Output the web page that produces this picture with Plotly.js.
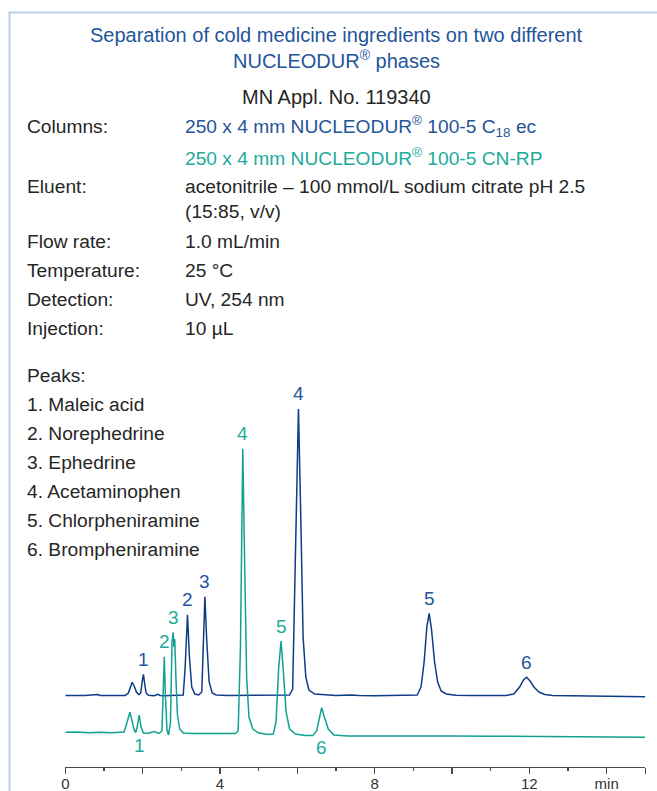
<!DOCTYPE html>
<html>
<head>
<meta charset="utf-8">
<script src="https://cdn.plot.ly/plotly-3.0.1.min.js"></script>
<style>html,body{margin:0;padding:0;background:#fff;}#chart{width:657px;height:791px;}</style>
</head>
<body>
<div id="chart"></div>
<script>
// ---------- DATA ----------
// C18 ec chromatogram (time in min, signal in arbitrary units incl. stacking offset)
const blueTime = [0,0.5,0.85,0.9,1.2,1.55,1.63,1.68,1.73,1.78,1.84,1.9,1.95,1.99,2.02,2.05,2.09,2.15,2.3,2.4,2.45,2.55,2.9,3.05,3.1,3.16,3.21,3.27,3.35,3.45,3.53,3.57,3.61,3.66,3.72,3.8,3.9,4.2,4.6,5.0,5.5,5.8,5.88,5.95,6.03,6.09,6.15,6.22,6.3,6.45,6.7,7.0,7.4,7.6,8.0,8.5,9.0,9.1,9.2,9.28,9.35,9.41,9.47,9.55,9.63,9.72,9.85,10.1,10.5,11.0,11.4,11.6,11.75,11.85,11.93,12.02,12.12,12.25,12.4,12.6,13.0,13.5,14.0,14.5,15.0];
const blueSignal = [71.5,71.5,72.4,71.5,71.5,71.6,74,80,84.7,81,75,72.5,74,86,92.7,84,74,71.8,71.3,72.6,71.6,71.3,71.5,72,100,152.3,110,80,73,72,75,120,170.3,125,85,74,72,71.5,71.6,71.4,71.5,72,78,200,358,250,130,90,77,73,72,71.5,72,71.5,71.3,71.5,71.5,72,80,105,140,153.7,138,105,85,76,73,71.8,71.4,71.5,71.6,73,80,87,89.7,86,80,75,72.5,71.5,71.2,71.4,71.0,70.8,70.3];
// CN-RP chromatogram
const tealTime = [0,0.3,0.6,0.9,1.2,1.4,1.52,1.6,1.67,1.72,1.78,1.82,1.86,1.91,1.96,2.02,2.15,2.3,2.42,2.5,2.53,2.56,2.59,2.63,2.67,2.72,2.76,2.79,2.81,2.83,2.86,2.9,2.96,3.05,3.3,3.7,4.1,4.4,4.47,4.53,4.59,4.64,4.69,4.75,4.85,5.0,5.25,5.38,5.45,5.52,5.58,5.64,5.71,5.8,5.95,6.2,6.4,6.5,6.57,6.63,6.7,6.8,6.95,7.3,8.0,9.0,10.0,11.0,12.0,13.0,14.0,15.0];
const tealSignal = [34.7,34.9,34.3,34.8,34.2,34.6,35,45,54.7,47,37,34.5,40,52,40,34,33.8,35.5,33.5,36,70,110.3,70,37,32,45,125,134.7,120,128,90,52,38,34,33.5,33.8,33.6,33.5,36,120,318.3,200,90,50,38,34,32.5,33,45,100,126,95,55,38,33,31.5,31.5,36,50,59.3,50,38,32,31,31,31.2,31,30.8,30.5,30.7,30.2,29.7];

const peakNumbers = ['1','2','3','4','5','6'];
const peakNames = ['Maleic acid','Norephedrine','Ephedrine','Acetaminophen','Chlorpheniramine','Brompheniramine'];
const blueApexTime = [2.02,3.16,3.61,6.03,9.41,11.93];
const blueApexSignal = [92.7,152.3,170.3,358,153.7,89.7];
const tealApexTime = [1.91,2.56,2.79,4.59,5.58,6.63];
const tealApexSignal = [52,110.3,134.7,318.3,126,59.3];

const xLabelVals = [0,4,8,12,14];
const xLabelText = ['0','4','8','12','min'];
const xOtherMajorVals = [2,6,10,15];
const xMinorVals = [1,3,5,7,9,11,13];

const titleLines = ['Separation of cold medicine ingredients on two different','NUCLEODUR<sup>®</sup> phases'];
const applNo = 'MN Appl. No. 119340';
const condLabels = ['Columns:','','Eluent:','','Flow rate:','Temperature:','Detection:','Injection:'];
const condValues = ['250 x 4 mm NUCLEODUR<sup>®</sup> 100-5 C<sub>18</sub> ec','250 x 4 mm NUCLEODUR<sup>®</sup> 100-5 CN-RP','acetonitrile – 100 mmol/L sodium citrate pH 2.5','(15:85, v/v)','1.0 mL/min','25 °C','UV, 254 nm','10 µL'];
const peaksHeading = 'Peaks:';

// ---------- STYLE / LAYOUT ----------
const W = 657, H = 791;
const FONT = 'Liberation Sans, Arial, sans-serif';
const BLUE_LINE = '#0d3c88', TEAL_LINE = '#11a092';
const BLUE_TXT = '#24559a', TEAL_TXT = '#22aa9b', TXT = '#262626';
const AX = '#4a4a4a';
const BODY = 19.2;
const px = x => x / W, py = y => 1 - y / H;

const ann = [];
function txt(text, x, y, opts) {
  ann.push(Object.assign({text: text, xref: 'paper', yref: 'paper', x: px(x), y: py(y), showarrow: false,
    xanchor: 'left', yanchor: 'middle', font: {family: FONT, size: BODY, color: TXT}}, opts || {}));
}
txt(titleLines[0], 336, 35, {xanchor: 'center', font: {family: FONT, size: 20, color: BLUE_TXT}});
txt(titleLines[1], 336, 60, {xanchor: 'center', font: {family: FONT, size: 20, color: BLUE_TXT}});
txt(applNo, 336, 97, {xanchor: 'center', font: {family: FONT, size: 20, color: TXT}});
const condY = [127,157,186,211,241,270,299,328];
condLabels.forEach((l, i) => { if (l) txt(l, 25, condY[i]); });
condValues.forEach((v, i) => {
  const c = i === 0 ? BLUE_TXT : (i === 1 ? TEAL_TXT : TXT);
  txt(v, 183, condY[i], {font: {family: FONT, size: BODY, color: c}});
});
txt(peaksHeading, 25, 375);
peakNames.forEach((n, i) => txt(peakNumbers[i] + '. ' + n, 25, 404 + i * 29));

// peak number labels on the chromatograms
peakNumbers.forEach((p, i) => {
  ann.push({text: p, xref: 'x', yref: 'y', x: blueApexTime[i], y: blueApexSignal[i], showarrow: false,
    xanchor: 'center', yanchor: 'middle', yshift: 15, font: {family: FONT, size: 19, color: BLUE_TXT}});
  const ys = i === 0 ? -30 : (i === 5 ? -40 : 15);
  ann.push({text: p, xref: 'x', yref: 'y', x: tealApexTime[i], y: tealApexSignal[i], showarrow: false,
    xanchor: 'center', yanchor: 'middle', yshift: ys, font: {family: FONT, size: 19, color: TEAL_TXT}});
});

const traces = [
  {x: blueTime, y: blueSignal, type: 'scatter', mode: 'lines', line: {color: BLUE_LINE, width: 1.5}, hoverinfo: 'skip', xaxis: 'x', yaxis: 'y'},
  {x: tealTime, y: tealSignal, type: 'scatter', mode: 'lines', line: {color: TEAL_LINE, width: 1.5}, hoverinfo: 'skip', xaxis: 'x2', yaxis: 'y'}
];

const xDomain = [px(65.3), px(645.3)];
const layout = {
  width: W, height: H, margin: {l: 0, r: 0, t: 0, b: 0},
  paper_bgcolor: '#fff', plot_bgcolor: 'rgba(0,0,0,0)', showlegend: false,
  xaxis: {domain: xDomain, range: [0, 15], anchor: 'y', showgrid: false, zeroline: false,
    showline: true, linecolor: AX, linewidth: 1.3,
    tickmode: 'array', tickvals: xLabelVals, ticktext: xLabelText,
    ticks: 'outside', ticklen: 6, tickwidth: 1.3, tickcolor: AX, ticklabelstandoff: -3,
    tickfont: {family: FONT, size: 15, color: '#333'},
    minor: {tickmode: 'array', tickvals: xMinorVals, ticks: 'outside', ticklen: 3, tickwidth: 1.3, tickcolor: AX, showgrid: false}},
  xaxis2: {domain: xDomain, range: [0, 15], overlaying: 'x', anchor: 'y', side: 'bottom', showgrid: false, zeroline: false,
    showline: false, showticklabels: false,
    tickmode: 'array', tickvals: xOtherMajorVals,
    ticks: 'outside', ticklen: 6, tickwidth: 1.3, tickcolor: AX},
  yaxis: {domain: [py(767), py(380)], range: [0, 387], visible: false, showgrid: false, zeroline: false},
  annotations: ann,
  shapes: [
    {type: 'line', xref: 'paper', yref: 'paper', x0: px(9.5), x1: px(9.5), y0: py(12), y1: py(791), line: {color: '#bccfe9', width: 2}},
    {type: 'line', xref: 'paper', yref: 'paper', x0: px(8.5), x1: px(657), y0: py(12.5), y1: py(12.5), line: {color: '#bccfe9', width: 2}}
  ]
};
Plotly.newPlot('chart', traces, layout, {displayModeBar: false, staticPlot: true});
</script>
</body>
</html>
